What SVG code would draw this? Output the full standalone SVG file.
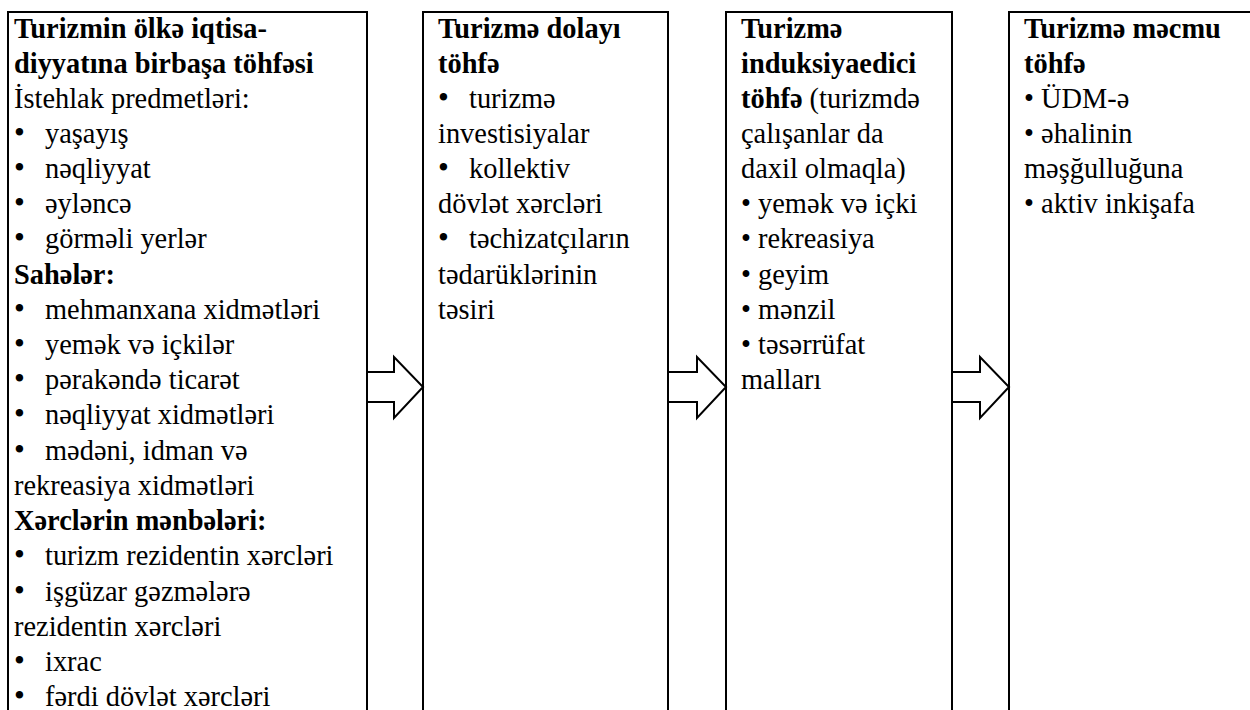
<svg xmlns="http://www.w3.org/2000/svg" width="1250" height="710" viewBox="0 0 1250 710">
<style>
.box{fill:#fff;stroke:#000;stroke-width:2}
.arr{fill:#fff;stroke:#000;stroke-width:2;stroke-linejoin:miter}
text{font-family:"Liberation Serif","DejaVu Serif","Times New Roman",serif;font-size:28.4px;fill:#000}
.b{font-weight:bold}
.bl{font-size:31px}
</style>
<rect width="1250" height="710" fill="#fff"/>
<g id="box1">
<rect class="box" x="8" y="12" width="359" height="720"/>
<text class="b" x="14" y="38">Turizmin ölkə iqtisa-</text>
<text class="b" x="14" y="73">diyyatına birbaşa töhfəsi</text>
<text x="14" y="108">İstehlak predmetləri:</text>
<text class="bl" x="14" y="143">•</text><text x="45" y="143">yaşayış</text>
<text class="bl" x="14" y="178">•</text><text x="45" y="178">nəqliyyat</text>
<text class="bl" x="14" y="213">•</text><text x="45" y="213">əyləncə</text>
<text class="bl" x="14" y="248">•</text><text x="45" y="248">görməli yerlər</text>
<text class="b" x="14" y="284">Sahələr:</text>
<text class="bl" x="14" y="319">•</text><text x="45" y="319">mehmanxana xidmətləri</text>
<text class="bl" x="14" y="354">•</text><text x="45" y="354">yemək və içkilər</text>
<text class="bl" x="14" y="389">•</text><text x="45" y="389">pərakəndə ticarət</text>
<text class="bl" x="14" y="424">•</text><text x="45" y="424">nəqliyyat xidmətləri</text>
<text class="bl" x="14" y="460">•</text><text x="45" y="460">mədəni, idman və</text>
<text x="14" y="495">rekreasiya xidmətləri</text>
<text class="b" x="14" y="530">Xərclərin mənbələri:</text>
<text class="bl" x="14" y="565">•</text><text x="45" y="565">turizm rezidentin xərcləri</text>
<text class="bl" x="14" y="601">•</text><text x="45" y="601">işgüzar gəzmələrə</text>
<text x="14" y="636">rezidentin xərcləri</text>
<text class="bl" x="14" y="671">•</text><text x="45" y="671">ixrac</text>
<text class="bl" x="14" y="706">•</text><text x="45" y="706">fərdi dövlət xərcləri</text>
</g>
<g id="box2">
<rect class="box" x="423" y="12" width="245" height="720"/>
<text class="b" x="438" y="38">Turizmə dolayı</text>
<text class="b" x="438" y="73">töhfə</text>
<text class="bl" x="438" y="108">•</text><text x="469" y="108">turizmə</text>
<text x="438" y="143">investisiyalar</text>
<text class="bl" x="438" y="178">•</text><text x="469" y="178">kollektiv</text>
<text x="438" y="213">dövlət xərcləri</text>
<text class="bl" x="438" y="248">•</text><text x="469" y="248">təchizatçıların</text>
<text x="438" y="284">tədarüklərinin</text>
<text x="438" y="319">təsiri</text>
</g>
<g id="box3">
<rect class="box" x="726" y="12" width="226" height="720"/>
<text class="b" x="741" y="38">Turizmə</text>
<text class="b" x="741" y="73">induksiyaedici</text>
<text x="741" y="108"><tspan class="b">töhfə</tspan> (turizmdə</text>
<text x="741" y="143">çalışanlar da</text>
<text x="741" y="178">daxil olmaqla)</text>
<text x="741" y="213">• yemək və içki</text>
<text x="741" y="248">• rekreasiya</text>
<text x="741" y="284">• geyim</text>
<text x="741" y="319">• mənzil</text>
<text x="741" y="354">• təsərrüfat</text>
<text x="741" y="389">malları</text>
</g>
<g id="box4">
<rect class="box" x="1009" y="12" width="260" height="720"/>
<text class="b" x="1024" y="38">Turizmə məcmu</text>
<text class="b" x="1024" y="73">töhfə</text>
<text x="1024" y="108">• ÜDM-ə</text>
<text x="1024" y="143">• əhalinin</text>
<text x="1024" y="178">məşğulluğuna</text>
<text x="1024" y="213">• aktiv inkişafa</text>
</g>
<g id="connectors">
<polygon class="arr" points="367,372 394,372 394,357 423,387 394,418 394,402 367,402"/>
<polygon class="arr" points="668,372 697,372 697,357 726,387 697,418 697,402 668,402"/>
<polygon class="arr" points="952,372 980,372 980,357 1009,387 980,418 980,402 952,402"/>
</g>
</svg>
